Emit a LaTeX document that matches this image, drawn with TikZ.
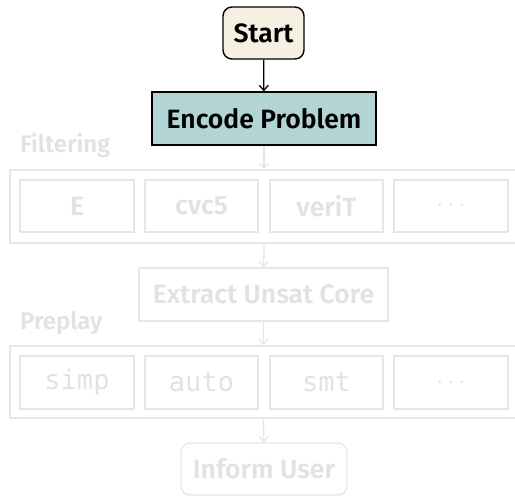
\documentclass[tikz,border=0pt]{standalone}
\usepackage{fontspec}
\setmainfont{Fira Sans}[BoldFont={Fira Sans SemiBold}]
\setmonofont{DejaVu Sans Mono}
\usetikzlibrary{arrows.meta}
\definecolor{cream}{HTML}{F5F0E2}
\definecolor{teal}{HTML}{B2D4D5}
\definecolor{faded}{HTML}{E6E6E6}
\definecolor{fadedtext}{HTML}{E2E2E2}
\tikzset{
  box/.style={draw=black, line width=1.4pt, inner sep=0pt, font=\bfseries\fontsize{26.5}{30}\selectfont},
  ghost/.style={draw=faded, line width=1.4pt, inner sep=0pt, text=fadedtext, font=\bfseries\fontsize{26.5}{30}\selectfont},
  ghostmono/.style={ghost, font=\ttfamily\fontsize{27}{30}\selectfont},
  frame/.style={draw=faded, line width=1.4pt, inner sep=0pt},
  grouplabel/.style={text=fadedtext, font=\bfseries\fontsize{24}{28}\selectfont, anchor=base west, inner sep=0pt},
  flow/.style={-{Straight Barb[length=5pt,width=9pt]}, line width=1.3pt, black},
  ghostflow/.style={flow, draw=faded},
}
\begin{document}
\begin{tikzpicture}[x=1pt,y=-1pt]
\useasboundingbox (0,0) rectangle (515,496);
% entry point and the active step
\node[box, fill=cream, rounded corners=9pt, minimum width=81pt, minimum height=52pt] (start) at (263.5,33) {Start};
\node[box, fill=teal, minimum width=224pt, minimum height=53pt] (encode) at (264,118.5) {Encode Problem};
% filtering stage
\node[grouplabel] (filtlbl) at (20,152) {Filtering};
\node[frame, minimum width=520pt, minimum height=73pt] (filt) at (270,206.5) {};
\node[ghost, minimum width=114pt, minimum height=52pt] (fe) at (77,206) {E};
\node[ghost, minimum width=113pt, minimum height=52pt] (fcvc) at (201.5,206) {cvc5};
\node[ghost, minimum width=113pt, minimum height=52pt] (fverit) at (326.5,206) {veriT};
\node[ghost, minimum width=114pt, minimum height=52pt] (fmore) at (451,206) {$\cdots$};
\node[ghost, minimum width=249pt, minimum height=53pt] (core) at (263.5,294.5) {Extract Unsat Core};
% preplay stage
\node[grouplabel] (prelbl) at (20,329) {Preplay};
\node[frame, minimum width=520pt, minimum height=72pt] (pre) at (270,382) {};
\node[ghostmono, minimum width=114pt, minimum height=53pt] (psimp) at (77,382.5) {simp};
\node[ghostmono, minimum width=113pt, minimum height=53pt] (pauto) at (201.5,382.5) {auto};
\node[ghostmono, minimum width=113pt, minimum height=53pt] (psmt) at (326.5,382.5) {smt};
\node[ghost, minimum width=114pt, minimum height=53pt] (pmore) at (451,382.5) {$\cdots$};
\node[ghost, rounded corners=9pt, minimum width=166pt, minimum height=52pt] (inform) at (264,469) {Inform User};
% connectors
\draw[flow] (start) -- (encode);
\draw[ghostflow] (encode) -- (encode |- filt.north);
\draw[ghostflow] (encode |- filt.south) -- (core);
\draw[ghostflow] (core) -- (core |- pre.north);
\draw[ghostflow] (core |- pre.south) -- (inform);
\end{tikzpicture}
\end{document}
